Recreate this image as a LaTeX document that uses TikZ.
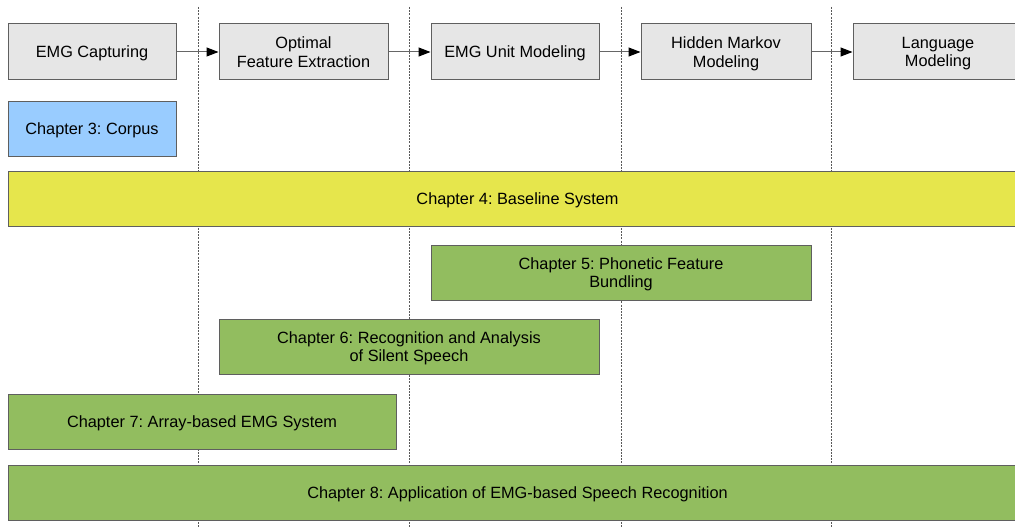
\documentclass[tikz,border=0pt]{standalone}
\usepackage{fontspec}
\setmainfont{Liberation Sans}
\frenchspacing
\usetikzlibrary{arrows.meta}
\definecolor{boxgray}{RGB}{230,230,230}
\definecolor{edgegray}{RGB}{95,95,95}
\definecolor{chblue}{RGB}{153,204,255}
\definecolor{chyellow}{RGB}{230,230,76}
\definecolor{chgreen}{RGB}{146,189,95}
\tikzset{
  stage/.style={draw=edgegray, line width=1pt, fill=boxgray, minimum height=56pt, inner sep=0pt, text depth=0pt, align=center, font=\fontsize{16.3}{18.5}\selectfont},
  chap/.style={draw=edgegray, line width=1pt, minimum height=55pt, inner sep=0pt, text depth=0pt, align=center, font=\fontsize{16.3}{18.5}\selectfont},
  sep/.style={draw=black!65, line width=0.8pt, dash pattern=on 2pt off 1.2pt},
  flow/.style={draw=black!60, line width=1pt, -{Triangle[length=12pt,width=9pt,color=black]}}
}
\begin{document}
\begin{tikzpicture}[x=1pt,y=-1pt]
\useasboundingbox (0,0) rectangle (1015,527);
\clip (0,0) rectangle (1015,527);
\fill[white] (0,0) rectangle (1015,527);
% separators
\coordinate (s1t) at (198,7);   \coordinate (s1b) at (198,527);
\coordinate (s2t) at (409,7);   \coordinate (s2b) at (409,527);
\coordinate (s3t) at (621,7);   \coordinate (s3b) at (621,527);
\coordinate (s4t) at (831,7);   \coordinate (s4b) at (831,527);
\draw[sep] (s1t) -- (s1b);
\draw[sep] (s2t) -- (s2b);
\draw[sep] (s3t) -- (s3b);
\draw[sep] (s4t) -- (s4b);
% stages
\node[stage, minimum width=168pt] (cap) at (92,52) {EMG Capturing};
\node[stage, minimum width=169pt] (feat) at (303.5,52) {Optimal\\Feature Extraction};
\node[stage, minimum width=168pt] (unit) at (515,52) {EMG Unit Modeling};
\node[stage, minimum width=170pt] (hmm) at (726,52) {Hidden Markov\\Modeling};
\node[stage, minimum width=170pt] (lang) at (938,52) {Language\\Modeling};
\draw[flow] (cap) -- (feat);
\draw[flow] (feat) -- (unit);
\draw[flow] (unit) -- (hmm);
\draw[flow] (hmm) -- (lang);
% chapters
\node[chap, fill=chblue, minimum width=168pt] (c3) at (92,128.5) {Chapter 3: Corpus};
\node[chap, fill=chyellow, minimum width=1019pt] (c4) at (517.5,198.5) {Chapter 4: Baseline System};
\node[chap, fill=chgreen, minimum width=380pt] (c5) at (621,272.5) {Chapter 5: Phonetic Feature\\Bundling};
\node[chap, fill=chgreen, minimum width=380pt] (c6) at (409,346.5) {Chapter 6: Recognition and Analysis\\of Silent Speech};
\node[chap, fill=chgreen, minimum width=388pt] (c7) at (202,421.5) {Chapter 7: Array-based EMG System};
\node[chap, fill=chgreen, minimum width=1019pt] (c8) at (517.5,492.5) {Chapter 8: Application of EMG-based Speech Recognition};
\end{tikzpicture}
\end{document}
